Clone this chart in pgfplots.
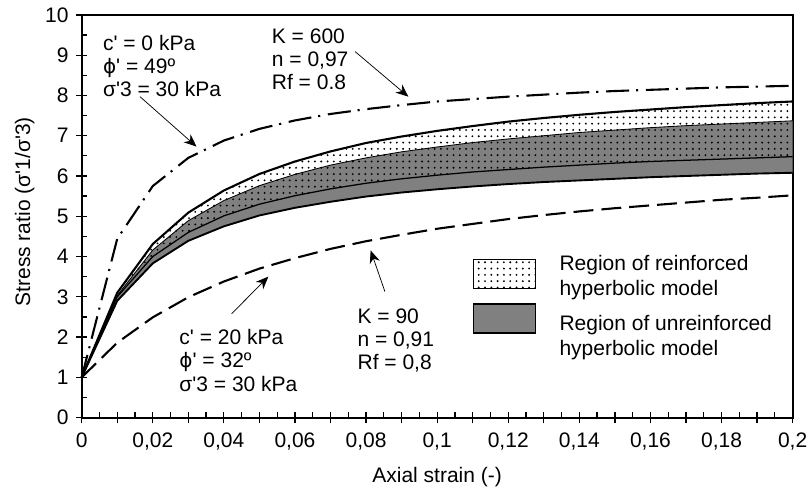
\documentclass[border=0pt]{standalone}
\usepackage{fontspec}
\setmainfont{Liberation Sans}
\newfontfamily\dv{DejaVu Sans}
\usepackage{pgfplots}
\usepackage{pgfplotstable}
\pgfplotsset{compat=1.18}
\usepgfplotslibrary{fillbetween}
\usetikzlibrary{patterns,arrows.meta}
\newcommand{\ap}{\textquotesingle}
\newcommand{\phisym}{{\dv\fontsize{9.5}{11}\selectfont ϕ}}

\pgfplotstableread{
x     T    G    R    B    K600 K90
0.00  1    1    1    1    1    1
0.01  3.10 3.03 3.00 2.90 4.44 1.86
0.02  4.31 4.16 4.00 3.83 5.75 2.49
0.03  5.09 4.89 4.60 4.39 6.45 2.99
0.04  5.64 5.39 5.01 4.75 6.88 3.38
0.05  6.05 5.76 5.30 5.02 7.17 3.70
0.06  6.36 6.04 5.51 5.21 7.38 3.96
0.07  6.61 6.27 5.68 5.36 7.54 4.19
0.08  6.82 6.45 5.82 5.49 7.66 4.38
0.09  6.98 6.60 5.93 5.59 7.76 4.54
0.10  7.12 6.72 6.02 5.67 7.85 4.69
0.11  7.24 6.83 6.10 5.74 7.91 4.81
0.12  7.35 6.92 6.16 5.80 7.97 4.93
0.13  7.44 7.00 6.22 5.85 8.02 5.03
0.14  7.52 7.08 6.27 5.89 8.07 5.12
0.15  7.59 7.14 6.32 5.93 8.11 5.20
0.16  7.65 7.20 6.36 5.97 8.14 5.27
0.17  7.71 7.25 6.39 6.00 8.17 5.34
0.18  7.76 7.29 6.42 6.03 8.20 5.41
0.19  7.81 7.33 6.45 6.06 8.22 5.46
0.20  7.85 7.37 6.48 6.08 8.24 5.52
}\datatable

\begin{document}
\begin{tikzpicture}
\begin{axis}[
  scale only axis, width=338.6pt, height=191.8pt,
  xmin=0, xmax=0.2, ymin=0, ymax=10,
  axis line style={line width=1pt},
  font=\fontsize{10}{12}\selectfont,
  /pgf/number format/assume math mode=true,
  xtick={0,0.01,0.02,0.03,0.04,0.05,0.06,0.07,0.08,0.09,0.1,0.11,0.12,0.13,0.14,0.15,0.16,0.17,0.18,0.19,0.2},
  xticklabels={0,,{0,02},,{0,04},,{0,06},,{0,08},,{0,1},,{0,12},,{0,14},,{0,16},,{0,18},,{0,2}},
  minor x tick num=1,
  ytick={0,1,2,3,4,5,6,7,8,9,10},
  minor y tick num=1,
  tick align=center,
  major tick length=5.4pt, minor tick length=2.6pt,
  minor x tick style={yshift=1.3pt},
  minor y tick style={xshift=1.3pt},
  xtick pos=bottom, ytick pos=left,
  tick style={black, line width=0.6pt},
  xticklabel style={yshift=-1pt},
  xlabel={Axial strain (-)},
  ylabel={Stress ratio (σ\ap1/σ\ap3)},
  xlabel style={at={(axis description cs:0.5,-0.1465)}, anchor=center},
  ylabel style={at={(axis description cs:-0.080,0.511)}, anchor=center},
  clip=false,
]
\addplot[name path=T, draw=none, forget plot] table[x=x,y=T]{\datatable};
\addplot[name path=G, draw=none, forget plot] table[x=x,y=G]{\datatable};
\addplot[name path=R, draw=none, forget plot] table[x=x,y=R]{\datatable};
\addplot[name path=B, draw=none, forget plot] table[x=x,y=B]{\datatable};
\addplot[fill=gray, draw=none] fill between[of=G and B];
\addplot[pattern=dots, pattern color=black, draw=none] fill between[of=T and R];
\addplot[black, line width=0.4pt] table[x=x,y=G]{\datatable};
\addplot[black, line width=0.6pt] table[x=x,y=R]{\datatable};
\addplot[black, line width=1pt] table[x=x,y=T]{\datatable};
\addplot[black, line width=0.9pt] table[x=x,y=B]{\datatable};
\addplot[black, line width=1pt, dash pattern=on 11pt off 3.3pt on 1pt off 3.7pt] table[x=x,y=K600]{\datatable};
\addplot[black, line width=1pt, dash pattern=on 9.5pt off 3.8pt] table[x=x,y=K90]{\datatable};

\coordinate (bl) at (rel axis cs:0,0);
\coordinate (tr) at (rel axis cs:1,1);

% annotations
\node[anchor=north west, align=left, inner sep=0pt, font=\fontsize{10}{11}\selectfont]
  at (axis cs:0.0059,9.50) {c\ap{} = 0 kPa\\\phisym\ap{} = 49º\\σ\ap3 = 30 kPa};
\node[anchor=north west, align=left, inner sep=0pt, font=\fontsize{10}{11}\selectfont]
  at (axis cs:0.0534,9.67) {K = 600\\n = 0,97\\Rf = 0.8};
\node[anchor=north west, align=left, inner sep=0pt, font=\fontsize{10}{11}\selectfont]
  at (axis cs:0.0274,2.195) {c\ap{} = 20 kPa\\\phisym\ap{} = 32º\\σ\ap3 = 30 kPa};
\node[anchor=north west, align=left, inner sep=0pt, font=\fontsize{10}{11}\selectfont]
  at (axis cs:0.0775,2.72) {K = 90\\n = 0,91\\Rf = 0,8};

\draw[line width=0.35pt, -{Stealth[length=6pt,width=5pt]}] (axis cs:0.0164,7.97) -- (axis cs:0.0323,6.73);
\draw[line width=0.35pt, -{Stealth[length=6pt,width=5pt]}] (axis cs:0.0769,9.09) -- (axis cs:0.0919,7.97);
\draw[line width=0.35pt, -{Stealth[length=6pt,width=5pt]}] (axis cs:0.0422,2.58) -- (axis cs:0.0525,3.50);
\draw[line width=0.35pt, -{Stealth[length=6pt,width=5pt]}] (axis cs:0.0853,3.13) -- (axis cs:0.0813,4.15);

% legend
\filldraw[fill=white, draw=black, line width=0.6pt] (axis cs:0.1102,3.21) rectangle (axis cs:0.1277,3.93);
\fill[pattern=dots, pattern color=black] (axis cs:0.1102,3.21) rectangle (axis cs:0.1277,3.93);
\filldraw[fill=gray, draw=black, line width=0.6pt] (axis cs:0.1102,2.10) rectangle (axis cs:0.1277,2.82);
\node[anchor=west, align=left, inner sep=0pt, font=\fontsize{10}{12}\selectfont]
  at (axis cs:0.1343,3.48) {Region of reinforced\\hyperbolic model};
\node[anchor=west, align=left, inner sep=0pt, font=\fontsize{10}{12}\selectfont]
  at (axis cs:0.1343,1.99) {Region of unreinforced\\hyperbolic model};
\end{axis}
\pgfresetboundingbox
\path ([shift={(-38.9pt,-34pt)}]bl) rectangle ([shift={(7.8pt,7.1pt)}]tr);
\end{tikzpicture}
\end{document}
